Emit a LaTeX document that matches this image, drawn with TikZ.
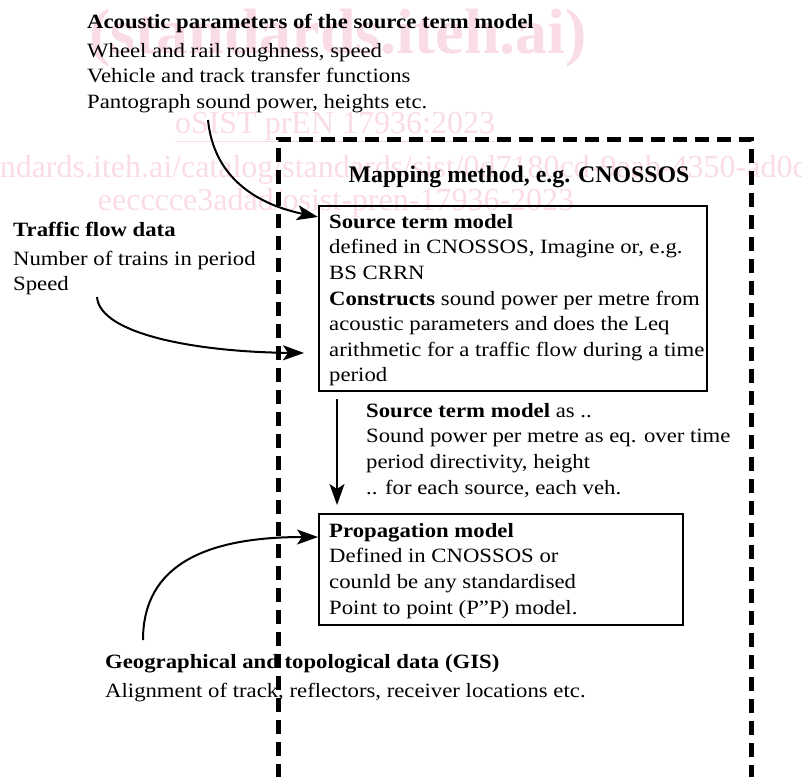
\documentclass[tikz,border=0pt]{standalone}
\usepackage{fontspec}
\setmainfont[FakeStretch=1.12]{Liberation Serif}
\newfontfamily\plainserif{Liberation Serif}
\usetikzlibrary{arrows.meta,calc}
\definecolor{wm}{RGB}{250,220,228}
\begin{document}
\begin{tikzpicture}[x=1pt,y=-1pt,
  txt/.style={anchor=north west, inner sep=0pt, align=left, font=\fontsize{20.3}{25.6}\selectfont},
  wmtxt/.style={text=wm, inner sep=0pt, anchor=base},
  boxnode/.style={draw, line width=2pt, anchor=north west, inner sep=0pt},
  arr/.style={line width=2pt, -{Stealth[length=21pt,width=15pt,inset=5pt]}},
  framepath/.style={line width=5pt, dash pattern=on 14pt off 8pt}]
\useasboundingbox (0,0) rectangle (802,776);
% watermark
\node[wmtxt, font=\plainserif\bfseries\fontsize{64}{70}\selectfont] (wm1) at (338,54) {(standards.iteh.ai)};
\node[wmtxt, font=\plainserif\fontsize{32}{36}\selectfont] (wm2) at (335,133) {\underline{oSIST prEN 17936:2023}};
\node[wmtxt, anchor=base west, font=\plainserif\fontsize{32}{36}\selectfont] (wm3) at (-36,177) {standards.iteh.ai/catalog/standards/sist/0d7180cd-9aab-4350-ad0c-};
\node[wmtxt, font=\plainserif\fontsize{32}{36}\selectfont] (wm4) at (336,210) {eecccce3adad/osist-pren-17936-2023};
% title
\node[anchor=base, inner sep=0pt, font=\plainserif\bfseries\fontsize{23.8}{28}\selectfont] (title) at (519,182) {Mapping method, e.g. CNOSSOS};
% boxes
\node[boxnode, minimum width=388pt, minimum height=185pt] (src) at (318,205) {};
\node[boxnode, minimum width=364pt, minimum height=111pt] (prop) at (318,513) {};
% texts
\node[txt] (acoustic) at (87,10.08) {\strut\textbf{Acoustic parameters of the source term model}\\[3.4pt]
  Wheel and rail roughness, speed\\ Vehicle and track transfer functions\\ Pantograph sound power, heights etc.};
\node[txt] (traffic) at (13,218.08) {\strut\textbf{Traffic flow data}\\[3.4pt] Number of trains in period\\ Speed};
\node[txt] (srctext) at (329,210.08) {\strut\textbf{Source term model}\\ defined in CNOSSOS, Imagine or, e.g.\\ BS CRRN\\
  \textbf{Constructs} sound power per metre from\\ acoustic parameters and does the Leq\\
  arithmetic for a traffic flow during a time\\ period};
\node[txt] (flowtext) at (366,399.08) {\strut\textbf{Source term model} as ..\\ Sound power per metre as eq. over time\\
  period directivity, height\\ .. for each source, each veh.};
\node[txt] (proptext) at (329,519.08) {\strut\textbf{Propagation model}\\ Defined in CNOSSOS or\\ counld be any standardised\\
  Point to point (P”P) model.};
\node[txt] (gis) at (105,650.08) {\strut\textbf{Geographical and topological data (GIS)}\\[3.4pt]
  Alignment of track, reflectors, receiver locations etc.};
% dashed frame
\draw[framepath] (278,800) -- (278,139) -- (751,139) -- (751,800);
% connectors
\coordinate (a1) at (208,120);
\coordinate (t1) at (97,297);
\coordinate (g1) at (143,640);
\draw[arr] (a1) .. controls (214,180) and (260,205) .. ($(src.north west)+(0,12)$);
\draw[arr] (t1) .. controls (100,335) and (200,352) .. ($(src.north west)+(-14,148)$);
\draw[arr] (g1) .. controls (143,575) and (190,537) .. ($(prop.north west)+(0,24)$);
\draw[arr] ($(src.south west)+(19,7)$) -- ($(prop.north west)+(19,-8)$);
\end{tikzpicture}
\end{document}
